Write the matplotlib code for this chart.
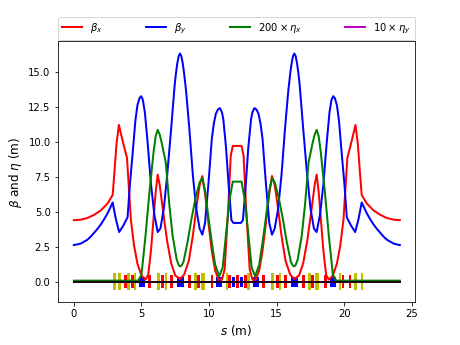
import matplotlib
matplotlib.use("Agg")
import matplotlib.pyplot as plt

s_bx = [0, 0.5, 1, 1.5, 2, 2.5, 2.87, 3.0, 3.15, 3.33, 3.5, 3.7, 3.93, 4.05, 4.22, 4.45, 4.7, 5.0, 5.3, 5.5,
        5.7, 5.9, 6.05, 6.2, 6.35, 6.6, 6.9, 7.2, 7.5, 7.85, 8.15, 8.5, 8.8, 9.1, 9.3, 9.5, 9.7, 9.95, 10.2, 10.45,
        10.7, 10.95, 11.15, 11.4, 11.6, 11.75, 12.07, 12.4, 12.55, 12.75, 13.0, 13.2, 13.45, 13.7, 13.95, 14.2, 14.45, 14.65, 14.85, 15.05,
        15.35, 15.65, 16.0, 16.3, 16.65, 16.95, 17.25, 17.55, 17.8, 17.95, 18.1, 18.25, 18.45, 18.65, 18.85, 19.15, 19.45, 19.7, 19.93, 20.1,
        20.22, 20.45, 20.65, 20.82, 21.0, 21.15, 21.28, 21.65, 22.15, 22.65, 23.15, 23.65, 24.1]
beta_x = [4.4, 4.43, 4.55, 4.78, 5.1, 5.6, 6.2, 7.8, 9.8, 11.2, 10.5, 9.7, 8.85, 7, 4.4, 2.6, 1.3, 0.45, 0.15, 0.5,
          2.2, 4.6, 6.4, 7.65, 6.9, 5, 2.9, 1.3, 0.45, 0.2, 0.5, 1.5, 3.3, 5.6, 6.9, 7.55, 6.3, 4.2, 2.2, 0.8,
          0.15, 0.15, 0.9, 5, 9, 9.7, 9.7, 9.7, 9, 5, 0.9, 0.15, 0.15, 0.8, 2.2, 4.2, 6.3, 7.55, 6.9, 5.6,
          3.3, 1.5, 0.5, 0.2, 0.45, 1.3, 2.9, 5, 6.9, 7.65, 6.4, 4.6, 2.2, 0.5, 0.15, 0.45, 1.3, 2.6, 4.4, 7,
          8.85, 9.7, 10.5, 11.2, 9.8, 7.8, 6.2, 5.6, 5.1, 4.78, 4.55, 4.43, 4.4]

s_by = [0, 0.5, 1, 1.25, 1.5, 1.75, 2, 2.25, 2.5, 2.87, 3.1, 3.35, 3.65, 3.97, 4.15, 4.35, 4.55, 4.7, 4.85, 4.97,
        5.1, 5.25, 5.45, 5.7, 5.95, 6.2, 6.4, 6.65, 6.9, 7.2, 7.45, 7.55, 7.65, 7.75, 7.85, 7.95, 8.05, 8.15, 8.3, 8.55,
        8.8, 9.05, 9.3, 9.5, 9.7, 9.95, 10.2, 10.35, 10.5, 10.65, 10.8, 10.95, 11.05, 11.25, 11.45, 11.65, 11.8, 12.07, 12.35, 12.5,
        12.7, 12.9, 13.1, 13.2, 13.35, 13.5, 13.65, 13.8, 13.95, 14.2, 14.45, 14.65, 14.85, 15.1, 15.35, 15.6, 15.85, 16.0, 16.1, 16.2,
        16.3, 16.4, 16.5, 16.6, 16.7, 16.95, 17.25, 17.5, 17.75, 17.95, 18.2, 18.45, 18.7, 18.9, 19.05, 19.18, 19.3, 19.45, 19.6, 19.8,
        20.0, 20.18, 20.5, 20.8, 21.05, 21.28, 21.65, 21.9, 22.15, 22.4, 22.65, 22.9, 23.15, 23.65, 24.1]
beta_y = [2.62, 2.72, 3.0, 3.22, 3.5, 3.78, 4.1, 4.48, 4.9, 5.66, 4.5, 3.55, 4, 4.6, 7, 9.2, 11.5, 12.6, 13.1, 13.25,
          13.0, 12.1, 10, 7, 4.8, 3.55, 3.8, 5.2, 7.6, 11, 14, 14.9, 15.6, 16.1, 16.3, 16.1, 15.6, 14.9, 13.6, 10.8,
          7.6, 5.2, 3.8, 3.36, 4.2, 7.0, 10.2, 11.3, 12.0, 12.3, 12.4, 12.1, 11.6, 9.6, 6.8, 4.4, 4.2, 4.2, 4.2, 4.4,
          6.8, 9.6, 11.6, 12.1, 12.4, 12.3, 12.0, 11.3, 10.2, 7.0, 4.2, 3.36, 3.8, 5.2, 7.6, 10.8, 13.6, 14.9, 15.6, 16.1,
          16.3, 16.1, 15.6, 14.9, 14, 11, 7.6, 5.2, 3.8, 3.55, 4.8, 7, 10, 12.1, 13.0, 13.25, 13.1, 12.6, 11.5, 9.2,
          7, 4.6, 4, 3.55, 4.5, 5.66, 4.9, 4.48, 4.1, 3.78, 3.5, 3.22, 3.0, 2.72, 2.62]

s_ex = [0, 4.75, 5.0, 5.3, 5.6, 5.9, 6.05, 6.2, 6.35, 6.5, 6.8, 7.05, 7.3, 7.6, 7.75, 7.85, 7.95, 8.1, 8.4, 8.7,
        9.0, 9.3, 9.5, 9.7, 9.95, 10.2, 10.45, 10.75, 11.0, 11.25, 11.5, 11.75, 12.07, 12.4, 12.65, 12.9, 13.15, 13.4, 13.7, 13.95,
        14.2, 14.45, 14.65, 14.85, 15.15, 15.45, 15.75, 16.05, 16.2, 16.3, 16.4, 16.55, 16.85, 17.1, 17.35, 17.65, 17.8, 17.95, 18.1, 18.25,
        18.55, 18.85, 19.15, 19.4, 24.1]
eta_x = [0.08, 0.08, 0.5, 3.3, 6.5, 9.3, 10.4, 10.85, 10.5, 9.9, 8.5, 5.6, 3.3, 1.6, 1.2, 1.1, 1.15, 1.4, 2.8, 4.5,
         6.0, 7.1, 7.4, 6.5, 4.6, 2.8, 1.2, 0.4, 1.0, 3.4, 5.8, 7.15, 7.15, 7.15, 5.8, 3.4, 1.0, 0.4, 1.2, 2.8,
         4.6, 6.5, 7.4, 7.1, 6, 4.5, 2.8, 1.4, 1.15, 1.1, 1.2, 1.6, 3.3, 5.6, 8.5, 9.9, 10.5, 10.85, 10.4, 9.3,
         6.5, 3.3, 0.5, 0.08, 0.08]

s_ey = [0, 24.1]
eta_y = [0, 0]

# lattice elements, (start, end) in s
sext = [(2.89, 3.09), (3.26, 3.46), (3.93, 4.15), (4.44, 4.57), (6.17, 6.37), (6.74, 6.89), (8.91, 9.11), (9.41, 9.68),
        (11.26, 11.38), (12.8, 13.0), (14.6, 14.8), (15.2, 15.33), (17.33, 17.56), (17.85, 18.15), (19.63, 19.78),
        (20.74, 20.96), (21.2, 21.4)]
quad_f = [(3.73, 3.93), (4.22, 4.44), (5.5, 5.7), (6.47, 6.67), (7.13, 7.33), (8.47, 8.67), (9.11, 9.33), (10.15, 10.32),
          (11.43, 11.63), (12.0, 12.22), (12.6, 12.8), (13.93, 14.15), (14.96, 15.2), (15.56, 15.78), (16.9, 17.1),
          (17.56, 17.78), (18.52, 18.74), (19.85, 20.0), (20.37, 20.52)]
quad_d = [(4.81, 5.26), (7.65, 8.15), (10.52, 10.96), (11.7, 11.93), (12.3, 12.5), (13.26, 13.7), (16.07, 16.6), (18.96, 19.4)]

fig, ax = plt.subplots(figsize=(6.4, 4.8), dpi=72)

for a, b in sext:
    ax.bar((a + b) / 2, 1.2, b - a, bottom=-0.6, color="y")
for a, b in quad_f:
    ax.bar((a + b) / 2, 0.95, b - a, bottom=-0.475, color="r")
for a, b in quad_d:
    ax.bar((a + b) / 2, 0.7, b - a, bottom=-0.35, color="b")

ax.plot(s_bx, beta_x, "r", lw=2, label=r"$\beta_x$")
ax.plot(s_by, beta_y, "b", lw=2, label=r"$\beta_y$")
ax.plot(s_ex, eta_x, "g", lw=2, label=r"$200\times\eta_x$")
ax.plot(s_ey, eta_y, "k", lw=2)
ax.plot(s_ey, eta_y, "m", lw=2, alpha=0.15, label=r"$10\times\eta_y$")

ax.set_xlim(-1.2, 25.2)
ax.set_ylim(-1.43, 17.2)
ax.set_xlabel(r"$s$ (m)", fontsize=12)
ax.set_ylabel(r"$\beta$ and $\eta$ (m)", fontsize=12)
handles, labels = ax.get_legend_handles_labels()
leg = ax.legend(bbox_to_anchor=(0, 1.005, 1, 0.09), loc="lower left", ncol=4, mode="expand", borderaxespad=0)
leg.get_lines()[3].set_alpha(1)

fig.subplots_adjust(left=0.125, right=0.9, top=0.88, bottom=0.125)
fig.savefig("out.png", dpi=72)
